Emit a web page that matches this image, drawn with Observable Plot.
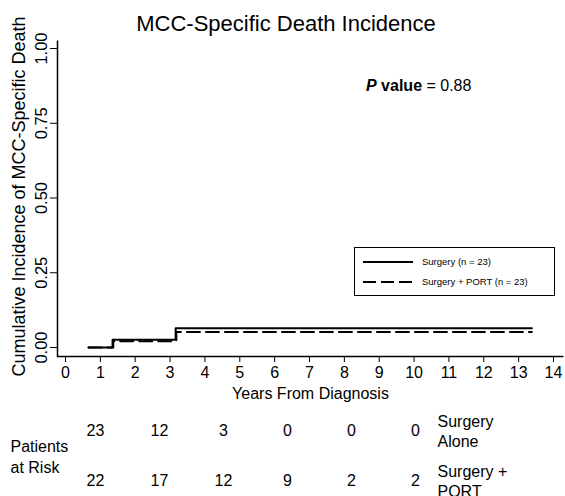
<!DOCTYPE html>
<html>
<head>
<meta charset="utf-8">
<script src="https://cdn.jsdelivr.net/npm/d3@7"></script>
<script src="https://cdn.jsdelivr.net/npm/@observablehq/plot@0.6"></script>
<style>
  body { margin: 0; background: #fff; font-family: "Liberation Sans", Arial, sans-serif; }
  #wrap { position: relative; width: 565px; height: 496px; overflow: hidden; background: #fff; }
  #wrap svg { display: block; }
  .title { position: absolute; left: 0; top: 11px; width: 572px; text-align: center; font-size: 22px; color: #000; }
  .pval { position: absolute; left: 366px; top: 77px; font-size: 16px; color: #000; white-space: nowrap; }
  .legend { position: absolute; left: 354px; top: 247px; width: 199px; height: 47px; border: 1.5px solid #000; }
  .legend svg { position: absolute; left: 0; top: 0; }
</style>
</head>
<body>
<div id="wrap"></div>
<script>
// ---- data ----
const surgeryTimes = [0.66, 1.35, 3.16, 13.38];
const surgeryValues = [0, 0.026, 0.064, 0.064];
const portTimes = [0.66, 1.37, 3.18, 13.38];
const portValues = [0, 0.021, 0.052, 0.052];
const xTicks = [0,1,2,3,4,5,6,7,8,9,10,11,12,13,14];
const yTicks = [0, 0.25, 0.5, 0.75, 1];
const riskTimes = [0, 2, 4, 6, 8, 10];
const riskSurgery = [23, 12, 3, 0, 0, 0];
const riskPort = [22, 17, 12, 9, 2, 2];
const groupLabels = ["Surgery\nAlone", "Surgery +\nPORT"];
const legendLabels = ["Surgery (n = 23)", "Surgery + PORT (n = 23)"];
const xLabel = "Years From Diagnosis";
const yLabel = "Cumulative Incidence of MCC-Specific Death";

const surgery = surgeryTimes.map((t, i) => ({t, v: surgeryValues[i]}));
const port = portTimes.map((t, i) => ({t, v: portValues[i]}));

const font = "Liberation Sans, Arial, sans-serif";
const W = 565, H = 404, mL = 57, mR = 2, mT = 40, mB = 48;
const fw = W - mL - mR, fh = H - mT - mB;

const main = Plot.plot({
  width: W, height: H,
  marginLeft: mL, marginRight: mR, marginTop: mT, marginBottom: mB,
  style: {fontFamily: font, fontSize: "16px", color: "#000", background: "transparent"},
  x: {domain: [0, 14], range: [65, 553]},
  y: {domain: [0, 1], range: [347, 48]},
  marks: [
    Plot.frame({stroke: "#000", strokeWidth: 1.5, strokeDasharray: `0 ${fw + fh} ${fw + fh}`}),
    Plot.axisX({ticks: xTicks, tickSize: 6, tickPadding: 4, tickFormat: d3.format("d"), label: null, fontSize: 16}),
    Plot.axisY({ticks: yTicks, tickSize: 7, tickPadding: 4, tickFormat: d3.format(".2f"), tickRotate: -90, label: null, fontSize: 16.5}),
    Plot.text([xLabel], {frameAnchor: "bottom", lineAnchor: "middle", dy: 37, text: d => d, fontSize: 16, fill: "#000"}),
    Plot.text([yLabel], {frameAnchor: "left", lineAnchor: "middle", textAnchor: "middle", dx: -38, dy: -2, rotate: -90, text: d => d, fontSize: 18, fill: "#000"}),
    Plot.line(surgery, {x: "t", y: "v", curve: "step-after", stroke: "#000", strokeWidth: 2}),
    Plot.line(port, {x: "t", y: "v", curve: "step-after", stroke: "#000", strokeWidth: 2, strokeDasharray: "13 6"})
  ]
});

const rows = [];
riskTimes.forEach((t, i) => {
  rows.push({t, row: 0, n: riskSurgery[i]});
  rows.push({t, row: 1, n: riskPort[i]});
});

const risk = Plot.plot({
  width: W, height: 496 - H,
  margin: 0,
  style: {fontFamily: font, fontSize: "16px", color: "#000", background: "transparent"},
  x: {domain: [0, 10], range: [95, 415], axis: null},
  y: {domain: [0, 1], range: [26, 76], axis: null},
  marks: [
    Plot.text(rows, {x: "t", y: "row", text: d => String(d.n), fontSize: 16, fill: "#000"}),
    Plot.text(groupLabels, {x: () => 10, y: (d, i) => i, text: d => d, dx: 22, textAnchor: "start",
      lineHeight: 1.25, fontSize: 16, fill: "#000"}),
    Plot.text(["Patients\nat Risk"], {x: () => 0, y: () => 0.5, text: d => d, dx: -85, textAnchor: "start",
      lineHeight: 1.35, fontSize: 16, fill: "#000"})
  ]
});

const wrap = document.getElementById("wrap");
wrap.appendChild(main);
wrap.appendChild(risk);

const title = document.createElement("div");
title.className = "title";
title.textContent = "MCC-Specific Death Incidence";
wrap.appendChild(title);

const pv = document.createElement("div");
pv.className = "pval";
pv.innerHTML = "<b><i>P</i> value</b> = 0.88";
wrap.appendChild(pv);

const leg = document.createElement("div");
leg.className = "legend";
const dashes = [null, "13 5"];
let svg = `<svg width="199" height="47" xmlns="http://www.w3.org/2000/svg">`;
legendLabels.forEach((lab, i) => {
  const y = 14 + i * 20;
  svg += `<line x1="8" x2="58" y1="${y}" y2="${y}" stroke="#000" stroke-width="2" ${dashes[i] ? `stroke-dasharray="${dashes[i]}"` : ""}/>`;
  svg += `<text x="67" y="${y}" dy="0.35em" font-size="9.5" font-family="${font}" fill="#000">${lab}</text>`;
});
svg += `</svg>`;
leg.innerHTML = svg;
wrap.appendChild(leg);
</script>
</body>
</html>
